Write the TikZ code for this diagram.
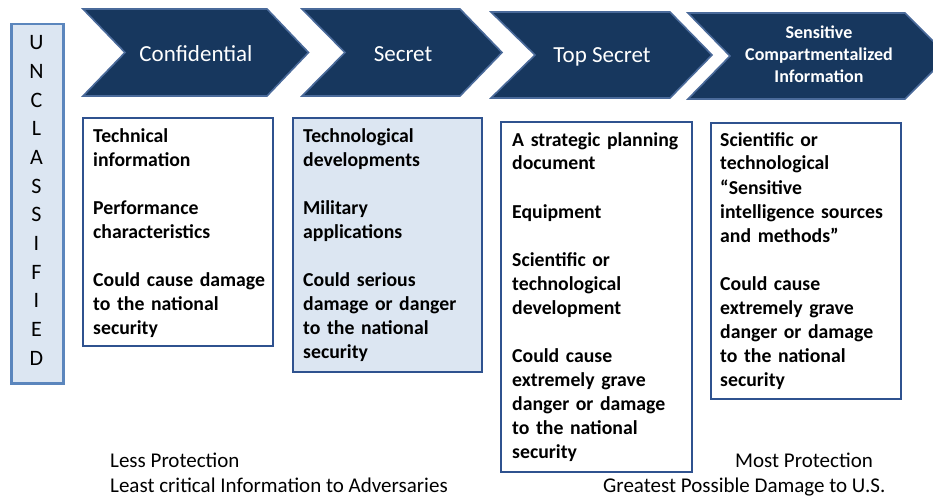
\documentclass[tikz,border=0pt]{standalone}
\usepackage{fontspec}
\setmainfont{Carlito}
\definecolor{navy}{HTML}{17375E}
\definecolor{navyedge}{HTML}{4A6A9A}
\definecolor{paleblue}{HTML}{DCE6F2}
\definecolor{boxedge}{HTML}{2F528F}
\definecolor{unedge}{HTML}{5B86BD}
\tikzset{
  chev/.style={fill=navy, draw=navyedge, line width=1.6pt, line join=miter},
  chevtext/.style={text=white, font=\fontsize{23}{27}\selectfont, anchor=base, inner sep=0},
  scitext/.style={text=white, font=\bfseries\fontsize{18}{22}\selectfont, align=center, anchor=base, inner sep=0},
  infobox/.style={draw=boxedge, line width=1.5pt, anchor=north west, inner sep=0, outer sep=0},
  infotext/.style={font=\bfseries\fontsize{19.75}{24}\selectfont, align=left, text width=182pt, anchor=base west, inner sep=0},
  bottomtext/.style={font=\fontsize{21}{25}\selectfont, anchor=base west, inner sep=0},
}
\begin{document}
\begin{tikzpicture}[x=1pt,y=-1pt]
\clip (0,0) rectangle (933,500);
\fill[white] (0,0) rectangle (933,500);

% Unclassified column
\node[draw=unedge, fill=paleblue, line width=2.5pt, anchor=north west, minimum width=52pt, minimum height=359pt, inner sep=0] (uncl) at (10,23) {};
\node[font=\fontsize{22}{28.64}\selectfont, align=center, anchor=base, inner sep=0] (ulet) at (36.5,365)
  {U\\N\\C\\L\\A\\S\\S\\I\\F\\I\\E\\D};

% Chevrons
\draw[chev] (83,9) -- (267,9) -- (308.5,52.5) -- (267,96) -- (83,96) -- (125,52.5) -- cycle;
\draw[chev] (302,9) -- (460,9) -- (502,52.5) -- (460,96) -- (302,96) -- (345,52.5) -- cycle;
\draw[chev] (491,12) -- (670,12) -- (712,55) -- (670,98) -- (491,98) -- (535,55) -- cycle;
\draw[chev] (688,13) -- (905,13) -- (948,56) -- (905,99) -- (688,99) -- (730,56) -- cycle;

\node[chevtext] (conf) at (196,62) {Confidential};
\node[chevtext] (secr) at (403,62) {Secret};
\node[chevtext] (tops) at (602,63) {Top Secret};
\node[scitext] (sci) at (819,83) {Sensitive\\Compartmentalized\\Information};

% Info boxes
\node[infobox, fill=white, minimum width=190pt, minimum height=228pt] (b1) at (83,118) {};
\node[infobox, fill=paleblue, minimum width=189pt, minimum height=254pt] (b2) at (293,118) {};
\node[infobox, fill=white, minimum width=191pt, minimum height=350pt] (b3) at (501,122) {};
\node[infobox, fill=white, minimum width=190pt, minimum height=276pt] (b4) at (711,123) {};

\node[infotext] (t1) at (93,142.5) {Technical\\information\\[24pt]Performance\\characteristics\\[24pt]Could cause damage\\to the national\\security};
\node[infotext] (t2) at (303,142.5) {Technological\\developments\\[24pt]Military\\applications\\[24pt]Could serious\\damage or danger\\to the national\\security};
\node[infotext] (t3) at (512,146) {A strategic planning\\document\\[24pt]Equipment\\[24pt]Scientific or\\technological\\development\\[24pt]Could cause\\extremely grave\\danger or damage\\to the national\\security};
\node[infotext] (t4) at (720,146) {Scientific or\\technological\\“Sensitive\\intelligence sources\\and methods”\\[24pt]Could cause\\extremely grave\\danger or damage\\to the national\\security};

% Bottom labels
\node[bottomtext] (lp) at (110,467.5) {Less Protection};
\node[bottomtext] (lc) at (110,492.5) {Least critical Information to Adversaries};
\node[bottomtext] (mp) at (735,467.5) {Most Protection};
\node[bottomtext] (gd) at (603,492.5) {Greatest Possible Damage to U.S.};
\end{tikzpicture}
\end{document}
